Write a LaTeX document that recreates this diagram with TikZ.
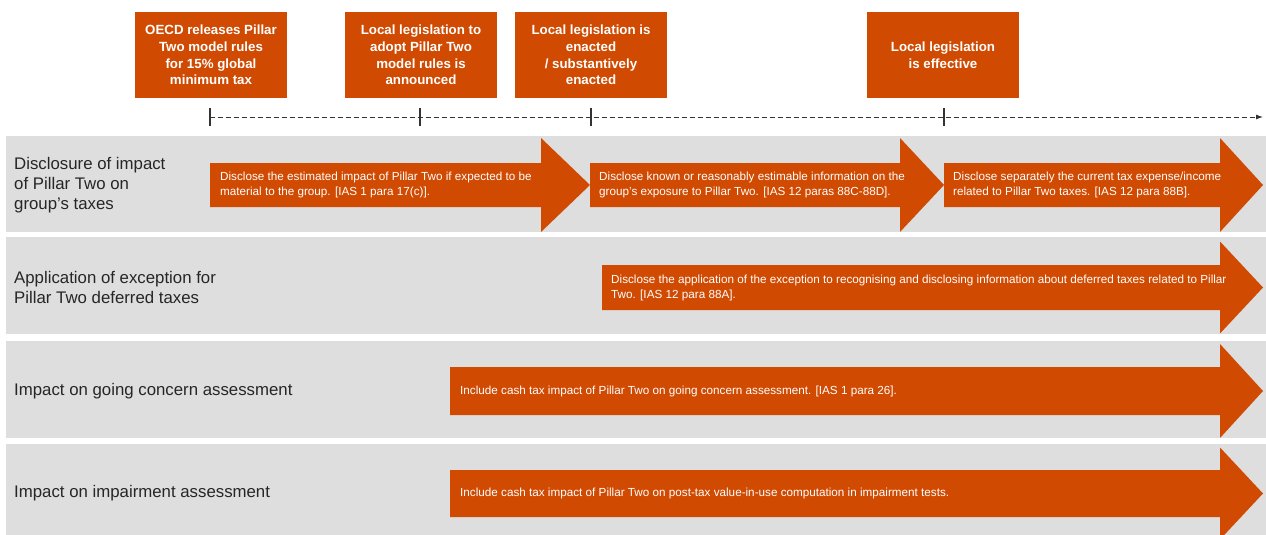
\documentclass[tikz,border=0pt]{standalone}
\usepackage{fontspec}
\setmainfont{Liberation Sans}
\usetikzlibrary{arrows.meta}
\definecolor{pwcorange}{HTML}{D04A02}
\definecolor{bandgray}{HTML}{DEDEDE}
\definecolor{linegray}{HTML}{333333}
\newcommand\orarrow[6]{% x0, xbase, xtip, ycenter, body half, head half
  \fill[pwcorange] (#1,#4-#5) -- (#2,#4-#5) -- (#2,#4-#6) -- (#3,#4) -- (#2,#4+#6) -- (#2,#4+#5) -- (#1,#4+#5) -- cycle;}
\begin{document}
\begin{tikzpicture}[x=1pt,y=-1pt,
  milestone/.style={fill=pwcorange, text=white, font=\bfseries\fontsize{13.3pt}{16.6pt}\selectfont, align=center, minimum width=152pt, minimum height=86pt, inner sep=0pt},
  band/.style={fill=bandgray, anchor=north west, minimum width=1260pt, inner sep=0pt},
  rowlabel/.style={anchor=west, align=left, text=black!85, font=\fontsize{16.8pt}{20pt}\selectfont, inner sep=0pt},
  arrowtext/.style={anchor=west, align=left, text=white, font=\fontsize{11.7pt}{15pt}\selectfont, inner sep=0pt},
  tick/.style={draw=linegray, line width=1.2pt},
  timeline/.style={draw=linegray, dash pattern=on 5pt off 3pt, line width=0.9pt, -{Latex[length=7pt,width=5pt]}}]
\useasboundingbox (0,0) rectangle (1266,535);
% milestone boxes
\node[milestone] (m1) at (211,55) {OECD releases Pillar\\Two model rules\\for 15\% global\\minimum tax};
\node[milestone] (m2) at (421,55) {Local legislation to\\adopt Pillar Two\\model rules is\\announced};
\node[milestone] (m3) at (591,55) {Local legislation is\\enacted\\/ substantively\\enacted};
\node[milestone] (m4) at (943,55) {Local legislation\\is effective};
% timeline
\coordinate (t1) at (210,117);
\coordinate (t2) at (420,117);
\coordinate (t3) at (591,117);
\coordinate (t4) at (944,117);
\coordinate (tend) at (1263,117);
\draw[timeline] (t1) -- (tend);
\foreach \t in {t1,t2,t3,t4} \draw[tick] ([yshift=9pt]\t) -- ([yshift=-9pt]\t);
% bands
\node[band, minimum height=96pt] (b1) at (6,136) {};
\node[band, minimum height=97pt] (b2) at (6,237) {};
\node[band, minimum height=97pt] (b3) at (6,341) {};
\node[band, minimum height=94pt] (b4) at (6,444) {};
% row labels
\node[rowlabel] (l1) at (14,185) {Disclosure of impact\\of Pillar Two on\\group's taxes};
\node[rowlabel] (l2) at (14,287) {Application of exception for\\Pillar Two deferred taxes};
\node[rowlabel] (l3) at (14,391) {Impact on going concern assessment};
\node[rowlabel] (l4) at (14,493) {Impact on impairment assessment};
% arrows
\orarrow{210}{541}{590}{185}{22}{47}
\orarrow{590}{900}{944}{185}{22}{47}
\orarrow{944}{1220}{1263}{185}{22}{47}
\orarrow{602}{1220}{1263}{287.5}{22.5}{46}
\orarrow{450}{1220}{1263}{391}{24}{47}
\orarrow{450}{1220}{1263}{493.5}{23.5}{46}
% arrow texts
\node[arrowtext] (a1) at (220,185) {Disclose the estimated impact of Pillar Two if expected to be\\material to the group. [IAS 1 para 17(c)].};
\node[arrowtext] (a2) at (599,185) {Disclose known or reasonably estimable information on the\\group's exposure to Pillar Two. [IAS 12 paras 88C-88D].};
\node[arrowtext] (a3) at (953,185) {Disclose separately the current tax expense/income\\related to Pillar Two taxes. [IAS 12 para 88B].};
\node[arrowtext] (a4) at (611,287.5) {Disclose the application of the exception to recognising and disclosing information about deferred taxes related to Pillar\\Two. [IAS 12 para 88A].};
\node[arrowtext] (a5) at (460,391) {Include cash tax impact of Pillar Two on going concern assessment. [IAS 1 para 26].};
\node[arrowtext] (a6) at (460,493.5) {Include cash tax impact of Pillar Two on post-tax value-in-use computation in impairment tests.};
\end{tikzpicture}
\end{document}
